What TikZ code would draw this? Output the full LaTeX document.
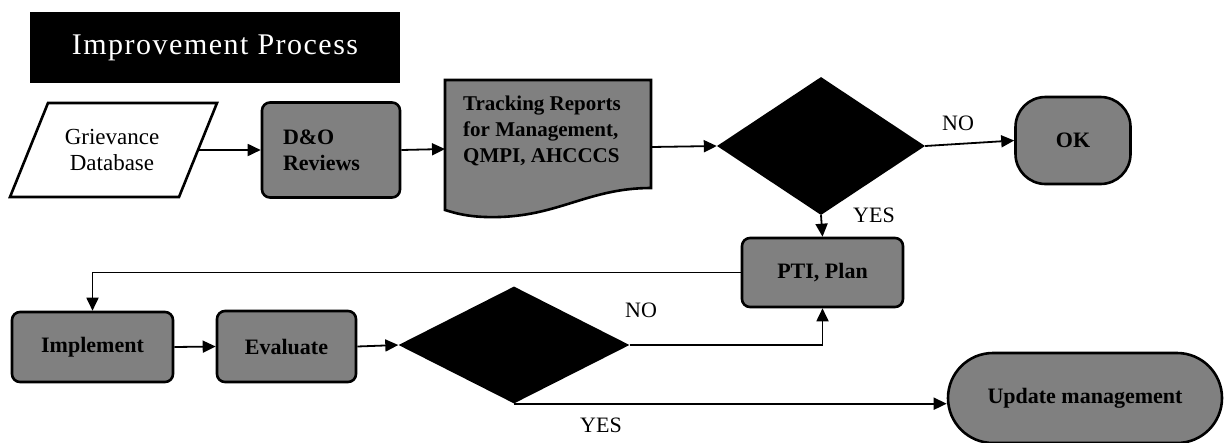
\documentclass[tikz,border=0pt]{standalone}
\usepackage{fontspec}
\setmainfont{Liberation Serif}
\usetikzlibrary{arrows.meta,shapes.geometric}
\definecolor{boxgray}{RGB}{128,128,128}
\begin{document}
\begin{tikzpicture}[x=1pt,y=-1pt,
  arr/.style={line width=1.8pt,-{Triangle[length=13pt,width=12pt]}},
  grayfill/.style={draw=black,line width=2.6pt,fill=boxgray},
  proc/.style={grayfill,rounded corners=8pt,font=\bfseries\fontsize{22}{26}\selectfont,inner sep=0pt,align=center},
  dec/.style={diamond,fill=black,inner sep=0pt},
  lbl/.style={font=\fontsize{22}{24}\selectfont,inner sep=0pt}]
\useasboundingbox (0,0) rectangle (1228,442);

% title
\node[fill=black,minimum width=370pt,minimum height=71pt,inner sep=0pt,text=white,
  font=\fontsize{30}{32}\selectfont\addfontfeature{LetterSpace=5}] (title) at (215,47.5) {Improvement Process};

% grievance database (parallelogram)
\draw[line width=2.6pt,fill=white] (48,103) -- (217,103) -- (179,197) -- (10,197) -- cycle;
\node[font=\fontsize{23}{26}\selectfont,align=center,inner sep=0pt] (gd) at (112,150) {Grievance\\Database};
\coordinate (gdE) at (198,150);

% D&O reviews
\node[proc,minimum width=138pt,minimum height=95pt,align=left,text width=96pt] (do) at (331,150) {D\&O\\Reviews};

% tracking reports (document shape)
\draw[grayfill] (445,80) -- (651,80) -- (651,188)
  .. controls (590,188) and (560,215) .. (500,217)
  .. controls (470,218) and (455,213) .. (445,210) -- cycle;
\node[font=\bfseries\fontsize{21}{26}\selectfont,align=left,inner sep=0pt,anchor=west] (tr) at (463,131) {Tracking Reports\\for Management,\\QMPI, AHCCCS};
\coordinate (trW) at (445,149);
\coordinate (trE) at (651,147);

% decision 1
\node[dec,minimum width=208pt,minimum height=138pt] (d1) at (821,146) {};

% OK
\node[proc,rounded corners=30pt,minimum width=115pt,minimum height=87pt] (ok) at (1073,140.5) {OK};

% PTI, Plan
\node[proc,minimum width=161pt,minimum height=69pt] (pti) at (822.5,272.5) {PTI, Plan};

% Implement, Evaluate
\node[proc,minimum width=161pt,minimum height=70pt] (impl) at (92.5,347) {Implement};
\node[proc,minimum width=139pt,minimum height=71pt] (eval) at (286.5,346.5) {Evaluate};

% decision 2
\node[dec,minimum width=231pt,minimum height=117pt] (d2) at (514,345) {};

% Update management
\node[proc,rounded corners=45pt,minimum width=274pt,minimum height=90pt] (um) at (1085,398) {Update management};

% connectors
\draw[arr] (gdE) -- (do.west);
\draw[arr] (do.east) -- (trW);
\draw[arr] (trE) -- (d1.west);
\draw[arr] (d1.east) -- (ok.west);
\draw[arr] (d1.south) -- (pti.north);
\draw[arr] (pti.west) -- (pti.west -| impl.north) -- (impl.north);
\draw[arr] (impl.east) -- (eval.west);
\draw[arr] (eval.east) -- (d2.west);
\draw[arr] (d2.east) -| (pti.south);
\draw[arr] (d2.south) -- (d2.south -| um.west);

% labels
\node[lbl] (no1) at (958,123) {NO};
\node[lbl] (yes1) at (874,215) {YES};
\node[lbl] (no2) at (641,310) {NO};
\node[lbl] (yes2) at (601,425) {YES};
\end{tikzpicture}
\end{document}
